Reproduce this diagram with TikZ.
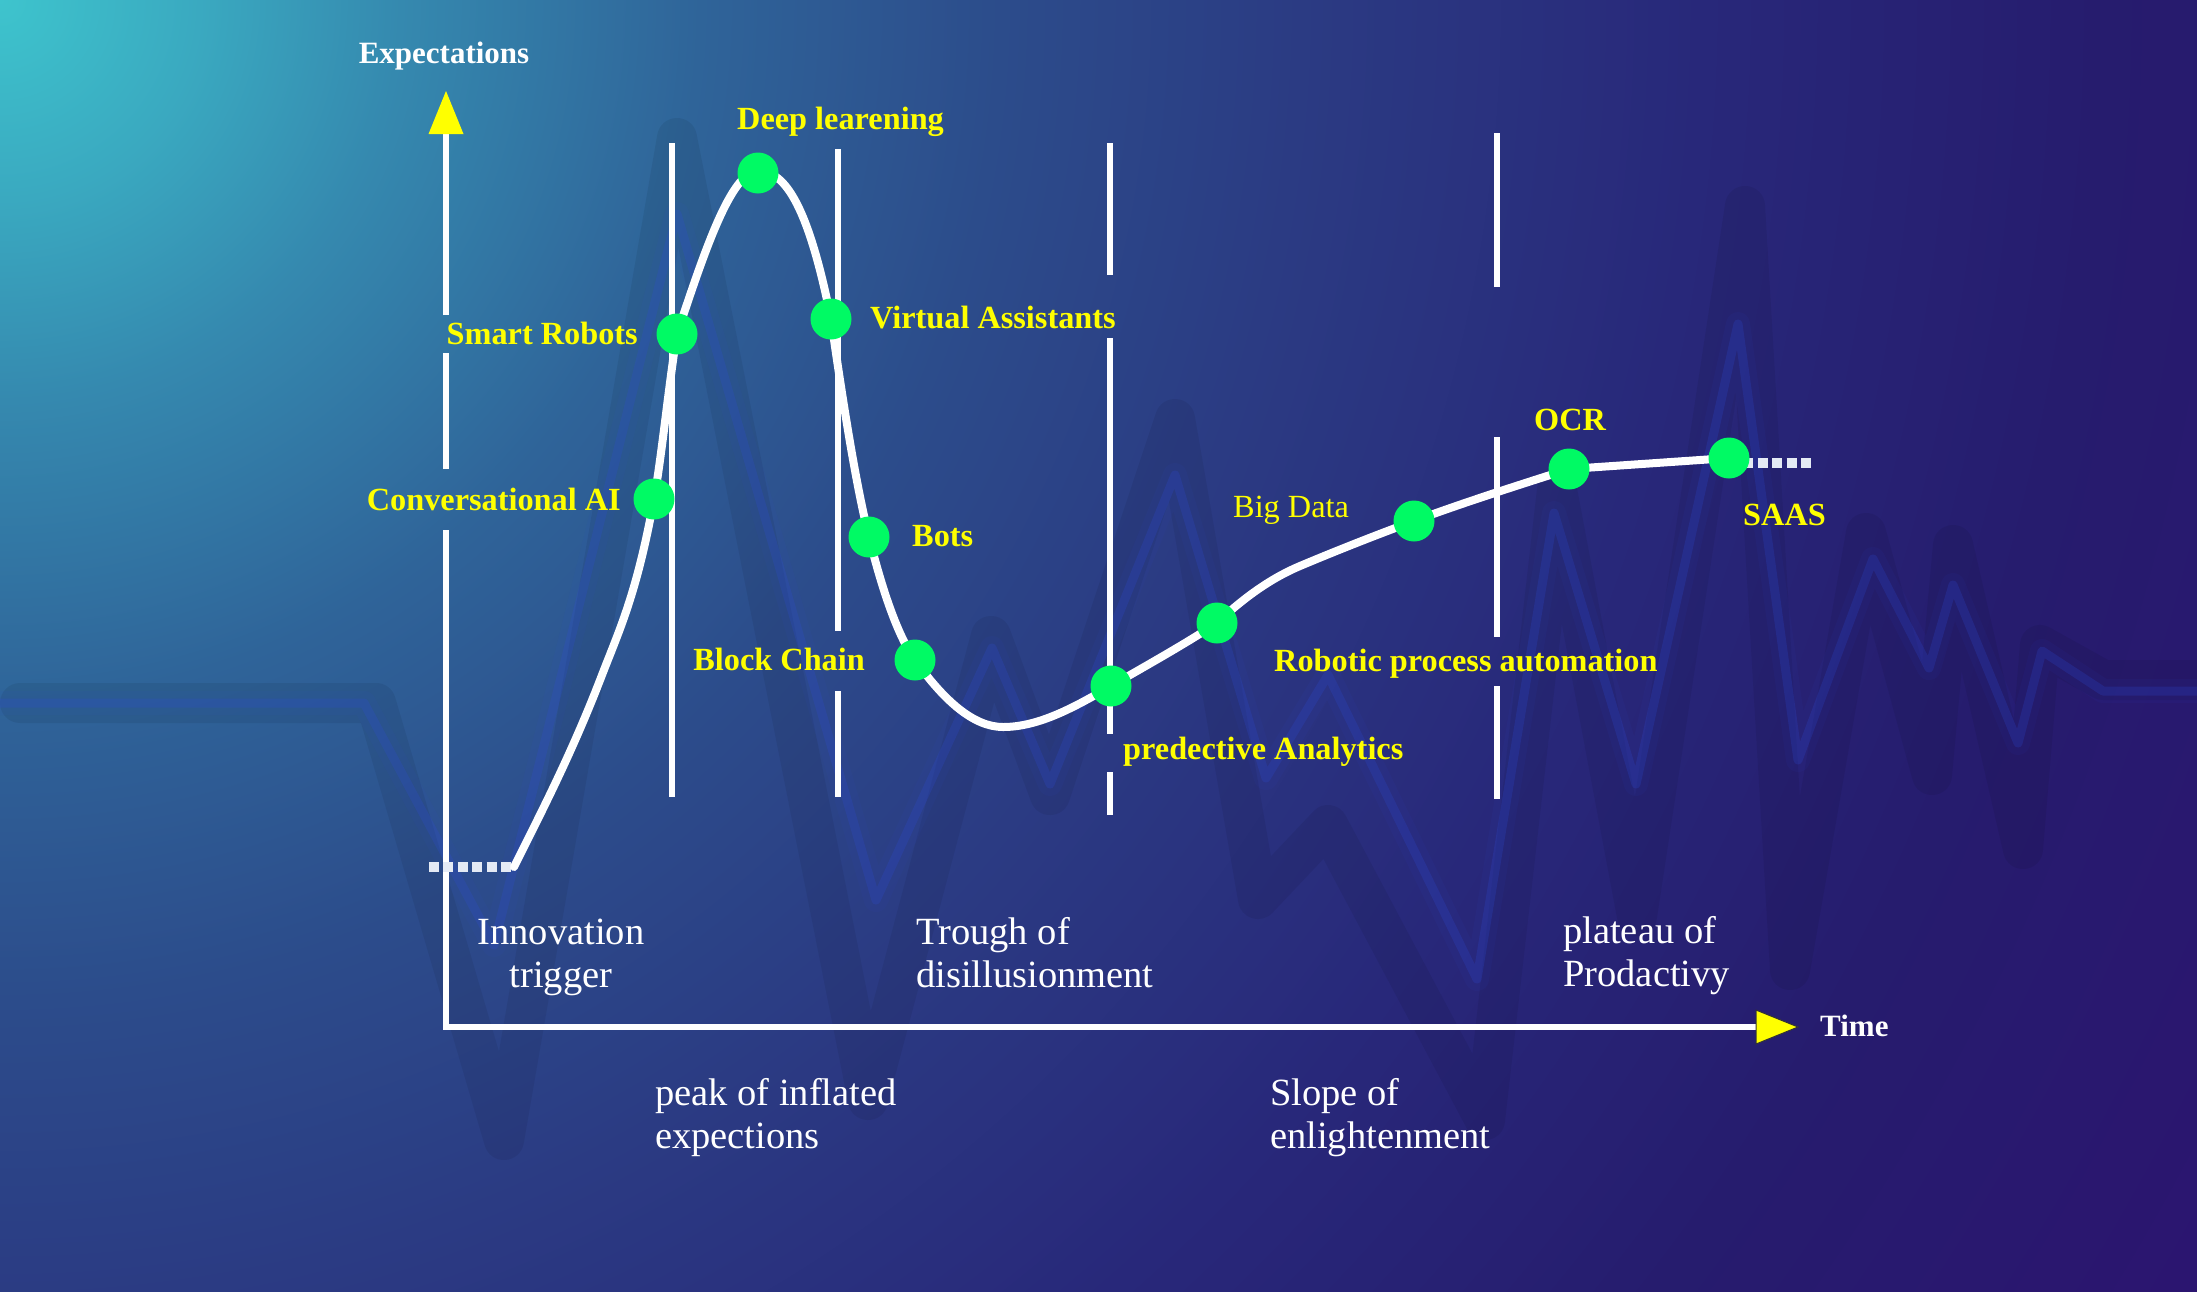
\documentclass[tikz,border=0pt]{standalone}
\usepackage{fontspec}
\setmainfont{Liberation Serif}
\usetikzlibrary{calc}

% palette
\definecolor{bg0}{HTML}{3EC4CD}
\definecolor{bg1}{HTML}{3AA9C0}
\definecolor{bg2}{HTML}{3589AF}
\definecolor{bg3}{HTML}{2F6499}
\definecolor{bg4}{HTML}{2C4C8B}
\definecolor{bg5}{HTML}{2B3B83}
\definecolor{bg6}{HTML}{28287A}
\definecolor{bg7}{HTML}{261C6E}
\definecolor{bg8}{HTML}{2C1470}
\definecolor{dotgreen}{RGB}{0,250,100}
\definecolor{techyellow}{RGB}{255,255,0}
\definecolor{pulseblue}{RGB}{45,75,215}
\definecolor{trailwhite}{HTML}{E4EAF4}

% radial backdrop, centred on the top-left corner
% (the middle 50bp of a shading covers the shaded path, so 25bp = radius)
\pgfdeclareradialshading{backdrop}{\pgfpoint{0bp}{0bp}}{%
  color(0bp)=(bg0); color(1.92bp)=(bg1); color(3.85bp)=(bg2);
  color(6.73bp)=(bg3); color(9.62bp)=(bg4); color(12.5bp)=(bg5);
  color(16.35bp)=(bg6); color(20.19bp)=(bg7); color(25bp)=(bg8);
  color(50bp)=(bg8)}

\tikzset{
  axisline/.style={line width=5.5pt, white},
  divider/.style={line width=5.5pt, white},
  hypecurve/.style={line width=8pt, white, line cap=round, line join=round},
  trail/.style={line width=9.5pt, trailwhite, dash pattern=on 10pt off 4.4pt},
  dot/.style={circle, fill=dotgreen, minimum size=41pt, inner sep=0pt},
  tech/.style={text=techyellow, font=\fontsize{32.3}{38}\selectfont\bfseries, inner sep=0pt},
  techlight/.style={text=techyellow, font=\fontsize{32.3}{38}\selectfont, inner sep=0pt},
  phase/.style={text=white, font=\fontsize{38.5}{42.3}\selectfont, inner sep=0pt, align=left},
  axislabel/.style={text=white, font=\fontsize{31}{36}\selectfont\bfseries, inner sep=0pt},
  pulseshadow/.style={line width=40pt, black, opacity=0.065, line join=round, line cap=round},
  pulseglow/.style={line width=24pt, pulseblue, opacity=0.06, line join=round},
  pulseline/.style={line width=9pt, pulseblue, opacity=0.22, line join=round},
  tiphead/.style={fill=techyellow},
}

\begin{document}
\begin{tikzpicture}[x=1pt, y=-1pt]
\useasboundingbox (0,0) rectangle (2197,1291);

% ---------- backdrop ----------
\begin{scope}
  \clip (0,0) rectangle (2197,1291);
  \shade[shading=backdrop] (0,0) circle[radius=2600pt];
  % heartbeat pulse behind the chart
  \draw[pulseshadow] (20,703) -- (376,703) -- (504,1140) -- (677,138) -- (868,1100)
    -- (991,636) -- (1050,795) -- (1175,419) -- (1258,899) -- (1328,825)
    -- (1485,1120) -- (1557,490) -- (1637,916) -- (1745,206) -- (1790,970)
    -- (1866,533) -- (1932,775) -- (1953,545) -- (2023,849) -- (2040,645)
    -- (2103,680) -- (2230,680);
  \draw[pulseglow] (0,703) -- (364,703) -- (494,945) -- (677,214) -- (876,900)
    -- (992,648) -- (1050,784) -- (1175,475) -- (1266,778) -- (1328,675)
    -- (1477,979) -- (1554,513) -- (1636,784) -- (1738,324) -- (1798,760)
    -- (1873,559) -- (1929,668) -- (1953,585) -- (2018,743) -- (2042,651)
    -- (2103,691) -- (2230,691);
  \draw[pulseline] (0,703) -- (364,703) -- (494,945) -- (677,214) -- (876,900)
    -- (992,648) -- (1050,784) -- (1175,475) -- (1266,778) -- (1328,675)
    -- (1477,979) -- (1554,513) -- (1636,784) -- (1738,324) -- (1798,760)
    -- (1873,559) -- (1929,668) -- (1953,585) -- (2018,743) -- (2042,651)
    -- (2103,691) -- (2230,691);
\end{scope}

% ---------- axes ----------
\coordinate (origin) at (446,1027);
\coordinate (ytop)   at (446,134);
\coordinate (ytip)   at (446,91);
\coordinate (xend)   at (1756,1027);
\coordinate (xtip)   at (1798,1027);
\coordinate (ya) at (446,530);
\coordinate (yb) at (446,469);
\coordinate (yc) at (446,353);
\coordinate (yd) at (446,315);

\draw[axisline] (origin) -- (xend);
\draw[axisline] ([yshift=-2.75pt]origin) -- (ya);
\draw[axisline] (yb) -- (yc);
\draw[axisline] (yd) -- (ytop);
\fill[tiphead] ($(ytop)+(-17.5,0)$) -- ($(ytop)+(17.5,0)$) -- (ytip) -- cycle;
\filldraw[tiphead, draw=black!80, line width=1pt] ($(xend)+(0,-17)$) -- ($(xend)+(0,17)$) -- (xtip) -- cycle;

\node[axislabel, anchor=base] (ylabel) at (444,63) {Expectations};
\node[axislabel, anchor=base west] (xlabel) at (1820,1036) {Time};

% ---------- phase dividers ----------
\draw[divider] (672,143) -- (672,797);
\draw[divider] (838,149) -- (838,631);
\draw[divider] (838,691) -- (838,797);
\draw[divider] (1110,143) -- (1110,275);
\draw[divider] (1110,338) -- (1110,734);
\draw[divider] (1110,772) -- (1110,815);
\draw[divider] (1497,133) -- (1497,287);
\draw[divider] (1497,437) -- (1497,637);
\draw[divider] (1497,686) -- (1497,799);

% ---------- hype curve ----------
\coordinate (lead)   at (429,867);
\coordinate (k0)     at (514,867);
\coordinate (k1)     at (602,675);
\coordinate (p-cai)  at (654,499);
\coordinate (p-sr)   at (677,334);
\coordinate (p-dl)   at (758,171);
\coordinate (p-va)   at (831,319);
\coordinate (p-bots) at (869,537);
\coordinate (p-bc)   at (915,660);
\coordinate (k2)     at (1003,727);
\coordinate (p-pa)   at (1111,686);
\coordinate (p-rpa)  at (1217,623);
\coordinate (k3)     at (1300,566);
\coordinate (p-bd)   at (1414,521);
\coordinate (p-ocr)  at (1569,469);
\coordinate (p-saas) at (1729,458);
\coordinate (trailstart) at (1729,463);
\coordinate (tail)   at (1811,463);

\draw[trail] (lead) -- (k0);
\draw[trail] (trailstart) -- (tail);
\draw[hypecurve] (k0)
  .. controls (543.3,808.3) and (572.7,751.3) .. (k1)
  .. controls (619.3,630) and (636.7,594.3) .. (p-cai)
  .. controls (661.7,456.8) and (669.3,380) .. (p-sr)
  .. controls (704,253) and (731,171) .. (p-dl)
  .. controls (782.3,171) and (806.7,197.3) .. (p-va)
  .. controls (843.7,407.9) and (856.3,486.2) .. (p-bots)
  .. controls (884.3,598.3) and (899.7,638.6) .. (p-bc)
  .. controls (944.3,701) and (973.7,727) .. (k2)
  .. controls (1039,727) and (1075,706.9) .. (p-pa)
  .. controls (1146.3,665.5) and (1181.7,646) .. (p-rpa)
  .. controls (1244.7,596.7) and (1272.3,577.6) .. (k3)
  .. controls (1338,550) and (1376,535.1) .. (p-bd)
  .. controls (1465.7,501.9) and (1517.3,485.5) .. (p-ocr)
  -- (p-saas);

% ---------- technology markers ----------
\node[dot] (d-cai)  at (p-cai)  {};
\node[dot] (d-sr)   at (p-sr)   {};
\node[dot] (d-dl)   at ([yshift=-2pt]p-dl) {};
\node[dot] (d-va)   at (p-va)   {};
\node[dot] (d-bots) at (p-bots) {};
\node[dot] (d-bc)   at (p-bc)   {};
\node[dot] (d-pa)   at (p-pa)   {};
\node[dot] (d-rpa)  at (p-rpa)  {};
\node[dot] (d-bd)   at (p-bd)   {};
\node[dot] (d-ocr)  at (p-ocr)  {};
\node[dot] (d-saas) at (p-saas) {};

\node[tech, anchor=base west] (l-dl)   at (737,129)  {Deep learening};
\node[tech, anchor=base east] (l-sr)   at (638,344)  {Smart Robots};
\node[tech, anchor=base east] (l-cai)  at (621,510)  {Conversational AI};
\node[tech, anchor=base west] (l-va)   at (870,328)  {Virtual Assistants};
\node[tech, anchor=base west] (l-bots) at (912,546)  {Bots};
\node[tech, anchor=base east] (l-bc)   at (865,670)  {Block Chain};
\node[tech, anchor=base west] (l-pa)   at (1123,759) {predective Analytics};
\node[tech, anchor=base west] (l-rpa)  at (1274,671) {Robotic process automation};
\node[techlight, anchor=base west] (l-bd) at (1233,517) {Big Data};
\node[tech, anchor=base west] (l-ocr)  at (1534,430) {OCR};
\node[tech, anchor=base west] (l-saas) at (1743,525) {SAAS};

% ---------- phase names (anchored on the baseline of the last line) ----------
\node[phase, align=center, anchor=base] (ph-trigger) at (561,987) {Innovation\\trigger};
\node[phase, anchor=base west] (ph-peak)    at (655,1148) {peak of inflated\\expections};
\node[phase, anchor=base west] (ph-trough)  at (916,987)  {Trough of\\disillusionment};
\node[phase, anchor=base west] (ph-slope)   at (1270,1148) {Slope of\\enlightenment};
\node[phase, anchor=base west] (ph-plateau) at (1563,986) {plateau of\\Prodactivy};
\end{tikzpicture}
\end{document}
